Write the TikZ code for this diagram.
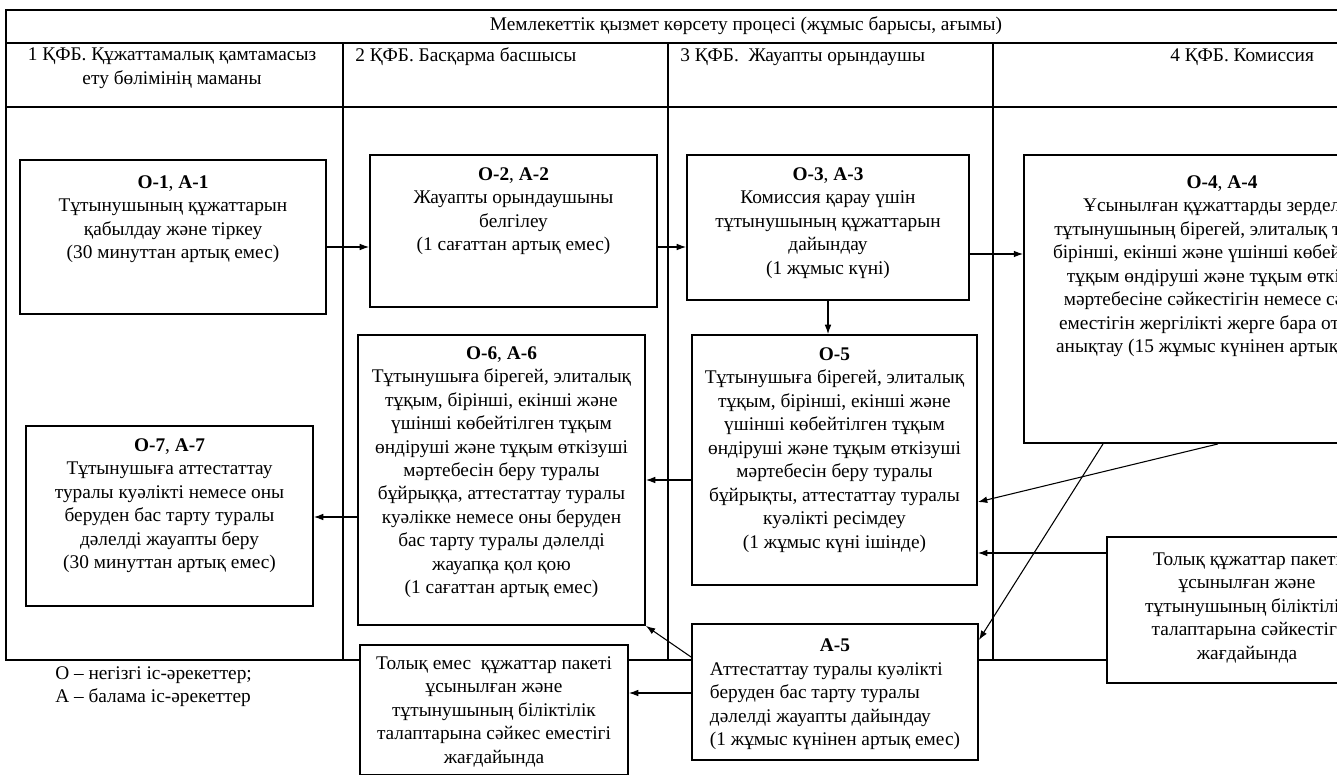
\documentclass[tikz,border=0pt]{standalone}
\usepackage{fontspec}
\setmainfont{Liberation Serif}
\usetikzlibrary{arrows.meta, positioning}

\newcommand{\px}{0.75pt}

\tikzset{
  actbox/.style={draw, line width=1.4pt, fill=white, inner sep=0pt},
  acttext/.style={align=center, inner sep=0pt, font=\fontsize{14.5}{17.6}\selectfont},
  lanetext/.style={inner sep=0pt, font=\fontsize{14.5}{17.6}\selectfont},
  flow/.style={->, line width=0.8pt},
}

\begin{document}
\begin{tikzpicture}[x=\px, y=-\px, >={Latex[length=7pt,width=5pt]}]
  \useasboundingbox (0,0) rectangle (1337,774);
  \clip (0,0) rectangle (1337,774);

  % table with lanes
  \draw[line width=1.2pt] (6,10) rectangle (1500,660);
  \draw[line width=1.2pt] (6,43) -- (1500,43) (6,107) -- (1500,107);
  \foreach \xl in {343,668,993}
    \draw[line width=1.2pt] (\xl,43) -- (\xl,660);

  \node[lanetext] (head) at (746,26) {Мемлекеттік қызмет көрсету процесі (жұмыс барысы, ағымы)};
  \node[lanetext, align=center] (lane1) at (172,68) {1 ҚФБ. Құжаттамалық қамтамасыз\\ету бөлімінің маманы};
  \node[lanetext, anchor=west] (lane2) at (355,57) {2 ҚФБ. Басқарма басшысы};
  \node[lanetext, anchor=west] (lane3) at (680,57) {3 ҚФБ.\ \ Жауапты орындаушы};
  \node[lanetext, anchor=west] (lane4) at (1170,57) {4 ҚФБ. Комиссия};

  % boxes
  \node[actbox, minimum width=306*\px, minimum height=154*\px] (o1) at (173,237) {};
  \node[acttext, below=12pt of o1.north] (o1txt) {\textbf{О-1}, \textbf{А-1}\\Тұтынушының құжаттарын\\қабылдау және тіркеу\\(30 минуттан артық емес)};

  \node[actbox, minimum width=287*\px, minimum height=152*\px] (o2) at (513.5,231) {};
  \node[acttext, below=10pt of o2.north] (o2txt) {\textbf{О-2}, \textbf{А-2}\\Жауапты орындаушыны\\белгілеу\\(1 сағаттан артық емес)};

  \node[actbox, minimum width=282*\px, minimum height=145*\px] (o3) at (828,227.5) {};
  \node[acttext, below=10pt of o3.north] (o3txt) {\textbf{О-3}, \textbf{А-3}\\Комиссия қарау үшін\\тұтынушының құжаттарын\\дайындау\\(1 жұмыс күні)};

  \node[actbox, minimum width=396*\px, minimum height=288*\px] (o4) at (1222,299) {};
  \node[acttext, below=16pt of o4.north] (o4txt) {\textbf{О-4}, \textbf{А-4}\\Ұсынылған құжаттарды зерделеу,\\тұтынушының бірегей, элиталық тұқым,\\бірінші, екінші және үшінші көбейтілген\\тұқым өндіруші және тұқым өткізуші\\мәртебесіне сәйкестігін немесе сәйкес\\еместігін жергілікті жерге бара отырып\\анықтау (15 жұмыс күнінен артық емес)};

  \node[actbox, minimum width=285*\px, minimum height=250*\px] (o5) at (834.5,460) {};
  \node[acttext, below=10pt of o5.north] (o5txt) {\textbf{О-5}\\Тұтынушыға бірегей, элиталық\\тұқым, бірінші, екінші және\\үшінші көбейтілген тұқым\\өндіруші және тұқым өткізуші\\мәртебесін беру туралы\\бұйрықты, аттестаттау туралы\\куәлікті ресімдеу\\(1 жұмыс күні ішінде)};

  \node[actbox, minimum width=287*\px, minimum height=290*\px] (o6) at (501.5,480) {};
  \node[acttext, below=9pt of o6.north] (o6txt) {\textbf{О-6}, \textbf{А-6}\\Тұтынушыға бірегей, элиталық\\тұқым, бірінші, екінші және\\үшінші көбейтілген тұқым\\өндіруші және тұқым өткізуші\\мәртебесін беру туралы\\бұйрыққа, аттестаттау туралы\\куәлікке немесе оны беруден\\бас тарту туралы дәлелді\\жауапқа қол қою\\(1 сағаттан артық емес)};

  \node[actbox, minimum width=287*\px, minimum height=180*\px] (o7) at (169.5,516) {};
  \node[acttext, below=10pt of o7.north] (o7txt) {\textbf{О-7}, \textbf{А-7}\\Тұтынушыға аттестаттау\\туралы куәлікті немесе оны\\беруден бас тарту туралы\\дәлелді жауапты беру\\(30 минуттан артық емес)};

  \node[actbox, minimum width=286*\px, minimum height=136*\px] (a5) at (835,692) {};
  \node[acttext, below=9pt of a5.north] (a5txt) {\begin{tabular}{@{}l@{}}\multicolumn{1}{@{}c@{}}{\textbf{А-5}}\\Аттестаттау туралы куәлікті\\беруден бас тарту туралы\\дәлелді жауапты дайындау\\(1 жұмыс күнінен артық емес)\end{tabular}};

  \node[actbox, minimum width=280*\px, minimum height=146*\px] (full) at (1247,610) {};
  \node[acttext, below=12pt of full.north] (fulltxt) {Толық құжаттар пакеті\\ұсынылған және\\тұтынушының біліктілік\\талаптарына сәйкестігі\\жағдайында};

  \node[actbox, minimum width=268*\px, minimum height=130*\px] (nofull) at (494,710) {};
  \node[acttext, below=9pt of nofull.north] (nofulltxt) {Толық емес\ \ құжаттар пакеті\\ұсынылған және\\тұтынушының біліктілік\\талаптарына сәйкес еместігі\\жағдайында};

  \node[lanetext, align=left, anchor=north west] (legend) at (55,666) {О – негізгі іс-әрекеттер;\\А – балама іс-әрекеттер};

  % arrows
  \draw[flow] (o1.east |- 0,247) -- (o2.west |- 0,247);
  \draw[flow] (o2.east |- 0,247) -- (o3.west |- 0,247);
  \draw[flow] (o3.east |- 0,254) -- (o4.west |- 0,254);
  \draw[flow] (o3.south) -- (o3.south |- o5.north);
  \draw[flow] (o4.south -| 1218,0) -- (o5.east |- 0,502);
  \draw[flow] (o4.south -| 1103,0) -- (a5.east |- 0,640);
  \draw[flow] (full.west |- 0,553) -- (o5.east |- 0,553);
  \draw[flow] (o5.west |- 0,480) -- (o6.east |- 0,480);
  \draw[flow] (o6.west |- 0,517) -- (o7.east |- 0,517);
  \draw[flow] (a5.west |- 0,657) -- (o6.south east);
  \draw[flow] (a5.west |- 0,693) -- (nofull.east |- 0,693);
\end{tikzpicture}
\end{document}
